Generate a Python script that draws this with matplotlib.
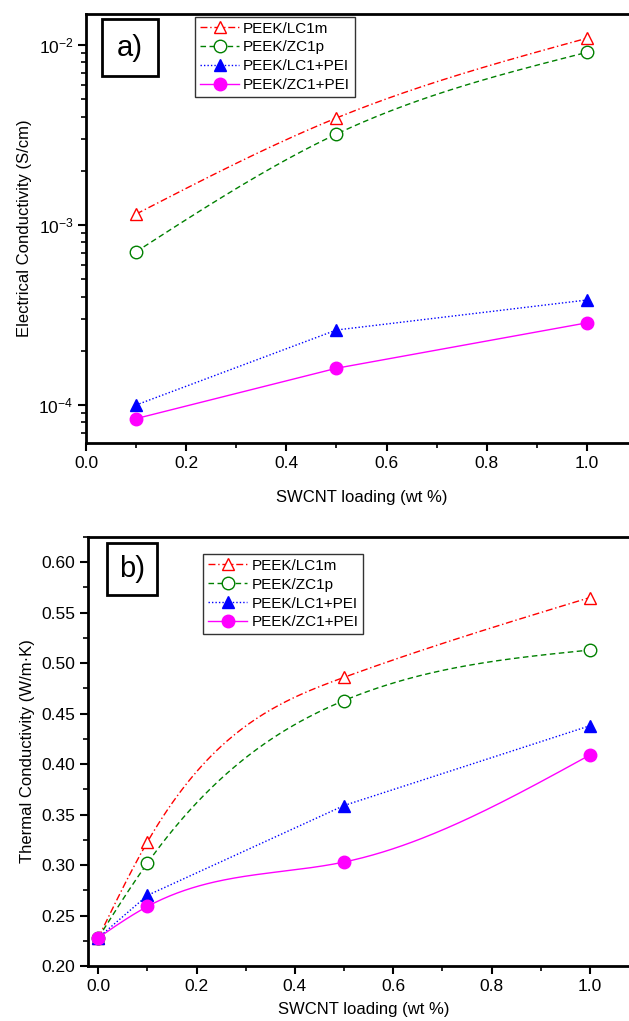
import numpy as np
import matplotlib
matplotlib.use("Agg")
import matplotlib.pyplot as plt
from matplotlib.ticker import MultipleLocator, LogLocator, NullFormatter, FormatStrFormatter

plt.rcParams['font.family'] = ['Liberation Sans', 'DejaVu Sans']
plt.rcParams['mathtext.fontset'] = 'custom'
plt.rcParams['mathtext.rm'] = 'Liberation Sans'
plt.rcParams['mathtext.default'] = 'regular'
plt.rcParams['axes.unicode_minus'] = False

series_names = ["PEEK/LC1m", "PEEK/ZC1p", "PEEK/LC1+PEI", "PEEK/ZC1+PEI"]

# Panel a: electrical conductivity (S/cm)
elec_x = [0.1, 0.5, 1.0]
elec_lc1m = [1.15e-3, 3.93e-3, 1.09e-2]
elec_zc1p = [7.1e-4, 3.2e-3, 9.1e-3]
elec_lc1pei = [1.0e-4, 2.61e-4, 3.83e-4]
elec_zc1pei = [8.4e-5, 1.6e-4, 2.86e-4]

# Panel b: thermal conductivity (W/m.K)
therm_x = [0.0, 0.1, 0.5, 1.0]
therm_lc1m = [0.228, 0.323, 0.486, 0.565]
therm_zc1p = [0.228, 0.302, 0.463, 0.513]
therm_lc1pei = [0.228, 0.270, 0.359, 0.438]
therm_zc1pei = [0.228, 0.259, 0.303, 0.409]


def natural_spline(x, y, n=200):
    x = np.asarray(x, float); y = np.asarray(y, float)
    k = len(x)
    h = np.diff(x)
    A = np.zeros((k, k)); b = np.zeros(k)
    A[0, 0] = 1; A[-1, -1] = 1
    for i in range(1, k - 1):
        A[i, i - 1] = h[i - 1]; A[i, i] = 2 * (h[i - 1] + h[i]); A[i, i + 1] = h[i]
        b[i] = 3 * ((y[i + 1] - y[i]) / h[i] - (y[i] - y[i - 1]) / h[i - 1])
    c = np.linalg.solve(A, b)
    xs = np.linspace(x[0], x[-1], n)
    ys = np.empty_like(xs)
    for j, xv in enumerate(xs):
        i = min(np.searchsorted(x, xv, side='right') - 1, k - 2)
        bb = (y[i + 1] - y[i]) / h[i] - h[i] * (2 * c[i] + c[i + 1]) / 3
        d = (c[i + 1] - c[i]) / (3 * h[i])
        t = xv - x[i]
        ys[j] = y[i] + bb * t + c[i] * t ** 2 + d * t ** 3
    return xs, ys


styles = [
    dict(color='red', ls=(0, (5, 2, 1, 2)), marker='^', mfc='white', mec='red'),
    dict(color='green', ls=(0, (4, 2.5)), marker='o', mfc='white', mec='green'),
    dict(color='blue', ls=(0, (1, 1.5)), marker='^', mfc='blue', mec='blue'),
    dict(color='magenta', ls='-', marker='o', mfc='magenta', mec='magenta'),
]

fig = plt.figure(figsize=(6.29, 10.21), dpi=100)
axa = fig.add_axes([86 / 629, 1 - 443 / 1021, 551 / 629, 429 / 1021])
axb = fig.add_axes([88 / 629, 1 - 966 / 1021, 551 / 629, 429 / 1021])


def draw(ax, x, ys, logy, smooth_flags):
    handles = []
    for name, y, st, sm in zip(series_names, ys, styles, smooth_flags):
        if sm:
            if logy:
                xs, yy = natural_spline(x, np.log10(y))
                yy = 10 ** yy
            else:
                xs, yy = natural_spline(x, y)
        else:
            xs, yy = x, y
        ax.plot(xs, yy, color=st['color'], ls=st['ls'], lw=1.0, zorder=2)
        ax.plot(x, y, ls='none', marker=st['marker'], ms=9, mfc=st['mfc'],
                mec=st['mec'], mew=1.0, zorder=3)
        h, = ax.plot([], [], color=st['color'], ls=st['ls'], lw=1.0, marker=st['marker'],
                     ms=9, mfc=st['mfc'], mec=st['mec'], mew=1.0)
        handles.append(h)
    return handles


ha = draw(axa, elec_x, [elec_lc1m, elec_zc1p, elec_lc1pei, elec_zc1pei], True,
          [True, True, False, False])
axa.set_yscale('log')
axa.set_ylim(6.15e-5, 1.486e-2)
axa.set_xlim(0.0, 1.1)
axa.xaxis.set_major_locator(MultipleLocator(0.2))
axa.xaxis.set_minor_locator(MultipleLocator(0.1))
axa.yaxis.set_major_locator(LogLocator(base=10, numticks=10))
axa.yaxis.set_minor_locator(LogLocator(base=10, subs=np.arange(2, 10), numticks=20))
axa.yaxis.set_minor_formatter(NullFormatter())
axa.set_xlabel("SWCNT loading (wt %)", fontsize=12, labelpad=14)
axa.set_ylabel("Electrical Conductivity (S/cm)", fontsize=12, labelpad=5)

hb = draw(axb, therm_x, [therm_lc1m, therm_zc1p, therm_lc1pei, therm_zc1pei], False,
          [True, True, False, True])
axb.set_ylim(0.20, 0.625)
axb.set_xlim(-0.021, 1.1)
axb.xaxis.set_major_locator(MultipleLocator(0.2))
axb.xaxis.set_minor_locator(MultipleLocator(0.1))
axb.yaxis.set_major_locator(MultipleLocator(0.05))
axb.yaxis.set_minor_locator(MultipleLocator(0.025))
axb.yaxis.set_major_formatter(FormatStrFormatter('%.2f'))
axb.set_xlabel("SWCNT loading (wt %)", fontsize=12, labelpad=6)
axb.set_ylabel("Thermal Conductivity (W/m·K)", fontsize=12, labelpad=5)

for ax in (axa, axb):
    for s in ax.spines.values():
        s.set_linewidth(2.0)
    ax.tick_params(which='major', direction='out', length=6, width=1.5, labelsize=12.5, pad=3)
    ax.tick_params(which='minor', direction='out', length=3.5, width=1.2)

leg_kw = dict(fontsize=11, frameon=True, fancybox=False, edgecolor='black',
              handlelength=2.6, handletextpad=0.25, labelspacing=0.32, borderpad=0.3,
              borderaxespad=0)
la = axa.legend(ha, series_names, loc='upper left', bbox_to_anchor=(0.198, 0.993), **leg_kw)
lb = axb.legend(hb, series_names, loc='upper left', bbox_to_anchor=(0.209, 0.96), **leg_kw)
for l in (la, lb):
    l.get_frame().set_linewidth(1.0)

axa.text(0.0799, 0.921, "a)", transform=axa.transAxes, fontsize=21, ha='center', va='center',
         bbox=dict(boxstyle='square,pad=0.5', fc='white', ec='black', lw=2.0))
axb.text(0.0799, 0.925, "b)", transform=axb.transAxes, fontsize=21, ha='center', va='center',
         bbox=dict(boxstyle='square,pad=0.42', fc='white', ec='black', lw=2.0))

fig.savefig("out.png", dpi=100)
